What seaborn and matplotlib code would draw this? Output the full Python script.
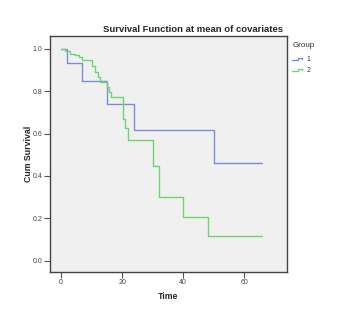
import numpy as np
import pandas as pd
import matplotlib
matplotlib.use("Agg")
import matplotlib.pyplot as plt
import seaborn as sns
from matplotlib.legend_handler import HandlerBase
from matplotlib.lines import Line2D

# ---- data ----
g1_time = [0, 2, 7, 15, 24, 50, 66]
g1_surv = [1.0, 0.934, 0.85, 0.74, 0.618, 0.46, 0.46]

g2_time = [0, 1.4, 2.9, 4.5, 5.8, 6.8, 10.3, 11.2, 12.1, 12.9, 14.9, 15.7, 16.5,
           20.2, 21.1, 22.1, 30.2, 32, 40, 48.2, 66]
g2_surv = [1.0, 0.99, 0.976, 0.969, 0.961, 0.947, 0.92, 0.892, 0.868, 0.845, 0.821,
           0.798, 0.77, 0.669, 0.626, 0.569, 0.448, 0.301, 0.205, 0.118, 0.118]

groups = ["1", "2"]
x_ticks = [0, 20, 40, 60]
y_ticks = [0.0, 0.2, 0.4, 0.6, 0.8, 1.0]
title = "Survival Function at mean of covariates"

df = pd.concat([
    pd.DataFrame({"Time": g1_time, "Cum Survival": g1_surv, "Group": groups[0]}),
    pd.DataFrame({"Time": g2_time, "Cum Survival": g2_surv, "Group": groups[1]}),
], ignore_index=True)

colors = {"1": "#7b8dd4", "2": "#6fd471"}

sns.set_style("white")
plt.rcParams["font.family"] = ["Liberation Sans", "DejaVu Sans"]

fig = plt.figure(figsize=(3.44, 3.25), dpi=100)
ax = fig.add_axes([49.5 / 344, 1 - 272 / 325, (287 - 49.5) / 344, (272 - 36) / 325])
ax.set_facecolor("#f0f0f0")

sns.lineplot(data=df, x="Time", y="Cum Survival", hue="Group", palette=colors,
             estimator=None, sort=True, drawstyle="steps-post", linewidth=1.0,
             ax=ax, legend=False)

ax.set_xlim(-3.8, 74.1)
ax.set_ylim(-0.053, 1.06)
ax.set_xticks(x_ticks)
ax.set_xticklabels([str(t) for t in x_ticks])
ax.set_yticks(y_ticks)
ax.set_yticklabels([f"{t:.1f}" for t in y_ticks])
ax.tick_params(axis="both", direction="out", length=4, width=0.8, color="#555555",
               labelsize=5, labelcolor="#444444", pad=1.2)
ax.tick_params(axis="both", which="both", bottom=True, left=True)
for s in ax.spines.values():
    s.set_color("#444444")
    s.set_linewidth(1.0)

ax.set_xlabel("Time", fontsize=6.3, fontweight="bold")
ax.set_ylabel("Cum Survival", fontsize=6.3, fontweight="bold")
ax.xaxis.set_label_coords(0.5, -0.085)
ax.yaxis.set_label_coords(-0.068, 0.5)
ax.set_title(title, loc="right", fontsize=6.8, fontweight="bold", pad=3, x=0.985)


class StepHandler(HandlerBase):
    def create_artists(self, legend, orig_handle, xdescent, ydescent, width, height,
                       fontsize, trans):
        w, h = width, height
        xs = np.array([0, 0.5, 0.5, 0.9, 0.9]) * w - xdescent
        ys = np.array([0.25, 0.25, 0.7, 0.7, 0.35]) * h - ydescent
        ln = Line2D(xs, ys, color=orig_handle.get_color(), linewidth=1.0)
        ln.set_transform(trans)
        return [ln]


handles = [Line2D([], [], color=colors[g]) for g in groups]
leg = fig.legend(handles, groups, title="Group", loc="upper left",
                 bbox_to_anchor=(286 / 344, 1 - 36 / 325), frameon=False,
                 fontsize=5, title_fontsize=5.8, handlelength=1.6, handletextpad=0.4,
                 labelspacing=0.55, alignment="left",
                 handler_map={Line2D: StepHandler()})
leg._legend_box.sep = 5
for t in leg.get_texts():
    t.set_color("#333333")
leg.get_title().set_color("#333333")

fig.savefig("out.png", dpi=100, facecolor="white")
